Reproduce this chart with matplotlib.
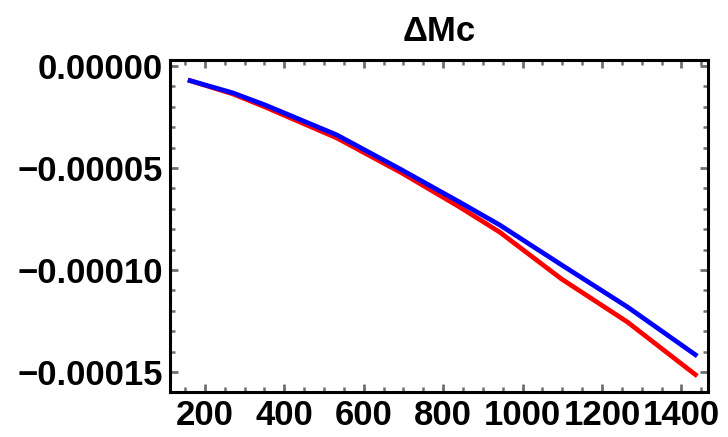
import numpy as np
import matplotlib.pyplot as plt
from matplotlib.ticker import MultipleLocator, FuncFormatter

# values
x_blue = [157, 270, 351, 532, 696, 841, 942, 1098, 1264, 1440]
y_blue = [-0.69e-5, -1.32e-5, -1.91e-5, -3.38e-5, -5.10e-5, -6.67e-5,
          -7.79e-5, -9.75e-5, -1.181e-4, -1.422e-4]
x_red = [157, 270, 351, 532, 696, 841, 942, 1098, 1264, 1440]
y_red = [-0.69e-5, -1.37e-5, -2.01e-5, -3.53e-5, -5.25e-5, -6.91e-5,
         -8.14e-5, -1.044e-4, -1.255e-4, -1.520e-4]
title = "\u0394Mc"

plt.rcParams['font.family'] = ['Liberation Sans', 'DejaVu Sans']
plt.rcParams['font.weight'] = 'bold'

fig = plt.figure(figsize=(7.28, 4.37), dpi=100)
ax = fig.add_axes([0.2335, 0.103, 0.739, 0.7597])

ax.plot(x_red, y_red, color=(1, 0, 0), lw=3.4, solid_capstyle='butt')
ax.plot(x_blue, y_blue, color=(0, 0, 1), lw=3.4, solid_capstyle='butt')

ax.set_xlim(112, 1467)
ax.set_ylim(-1.598e-4, 2.9e-6)

ax.xaxis.set_major_locator(MultipleLocator(200))
ax.xaxis.set_minor_locator(MultipleLocator(50))
ax.yaxis.set_major_locator(MultipleLocator(5e-5))
ax.yaxis.set_minor_locator(MultipleLocator(1e-5))

def yfmt(v, pos):
    s = "%.5f" % v
    if s.startswith("-0.00000"):
        s = "0.00000"
    return s.replace("-", "\u2212")

ax.yaxis.set_major_formatter(FuncFormatter(yfmt))
ax.xaxis.set_major_formatter(FuncFormatter(lambda v, p: "%d" % v))

for s in ax.spines.values():
    s.set_linewidth(2.2)
    s.set_color('black')

ax.tick_params(which='both', direction='in', top=True, right=True,
               color='#707070', labelsize=25)
ax.tick_params(which='major', length=6, width=2.0, pad=5)
ax.tick_params(which='minor', length=3.5, width=1.8)
for lab in ax.get_xticklabels() + ax.get_yticklabels():
    lab.set_fontweight('bold')

ax.set_title(title, fontsize=25, fontweight='bold', pad=14)

fig.savefig("out.png", dpi=100)
